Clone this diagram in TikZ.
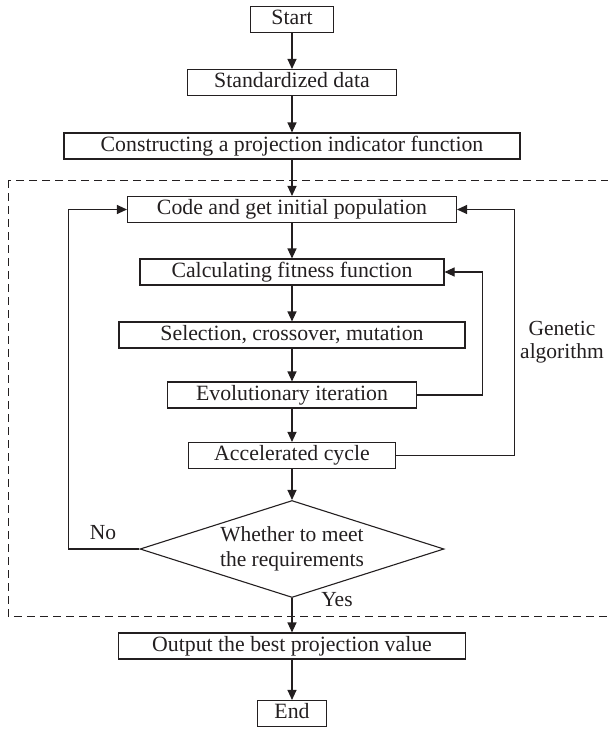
\documentclass[tikz,border=0pt]{standalone}
\usepackage{fontspec}
\setmainfont{Liberation Serif}
\usetikzlibrary{shapes.geometric, arrows.meta, positioning, calc}
\definecolor{inkgray}{RGB}{35, 31, 32}
\tikzset{
    stepbox/.style={rectangle, draw=inkgray, line width=1.1pt, inner xsep=0pt, inner ysep=1pt,
                    text height=17pt, text depth=7pt, align=center, text=inkgray,
                    font=\fontsize{21.8}{26}\selectfont},
    decision/.style={diamond, draw=inkgray, line width=1.1pt, aspect=3.13, inner sep=0pt,
                     minimum width=304pt, minimum height=97pt, align=center, text=inkgray,
                     font=\fontsize{21.5}{25}\selectfont},
    looptext/.style={align=center, text=inkgray, font=\fontsize{21.5}{23}\selectfont},
    arrow/.style={-{Triangle[length=10pt, width=9pt]}, line width=1.1pt, inkgray},
    groupframe/.style={dashed, dash pattern=on 8pt off 5pt, line width=1pt, inkgray},
}

\begin{document}
\begin{tikzpicture}[x=1pt, y=1pt]
    \useasboundingbox (0,0) rectangle (608,-729);

    \node[stepbox, minimum width=83pt] (start) at (292,-19.5) {Start};
    \node[stepbox, minimum width=209pt] (std) at (292,-82.5) {Standardized data};
    \node[stepbox, minimum width=456pt] (proj) at (292,-146) {Constructing a projection indicator function};
    \node[stepbox, minimum width=329pt] (code) at (292,-209.5) {Code and get initial population};
    \node[stepbox, minimum width=304pt] (fit) at (292,-272) {Calculating fitness function};
    \node[stepbox, minimum width=346pt] (sel) at (292,-335) {Selection, crossover, mutation};
    \node[stepbox, minimum width=249pt] (evo) at (292,-395) {Evolutionary iteration};
    \node[stepbox, minimum width=207pt] (acc) at (292,-455.5) {Accelerated cycle};
    \node[decision] (meet) at (292,-549) {Whether to meet\\the requirements};
    \node[stepbox, minimum width=347pt] (out) at (292,-646) {Output the best projection value};
    \node[stepbox, minimum width=69pt] (end) at (292,-713.5) {End};

    % genetic algorithm frame
    \draw[groupframe] (8,-180) rectangle (620,-616);
    \node[looptext] (ga) at (562,-342) {Genetic\\algorithm};
    \node[looptext] (no) at (103,-533) {No};
    \node[looptext] (yes) at (337,-600) {Yes};

    \foreach \from/\to in {start/std, std/proj, proj/code, code/fit, fit/sel,
                           sel/evo, evo/acc, acc/meet, meet/out, out/end} {
        \draw[arrow] (\from) -- (\to);
    }

    \draw[arrow] (evo.east) -- ++(65.5,0) |- (fit.east);
    \draw[arrow] (acc.east) -- ++(118,0) |- (code.east);
    \draw[arrow] (meet.west) -- ++(-71,0) |- (code.west);
\end{tikzpicture}
\end{document}
